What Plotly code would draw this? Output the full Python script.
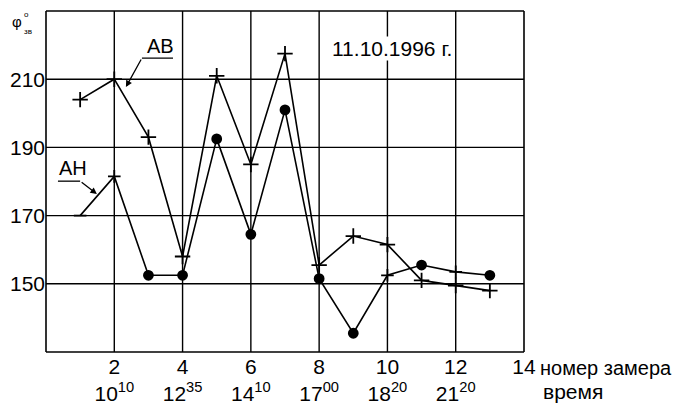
import plotly.graph_objects as go

# Data
measure_no = [1, 2, 3, 4, 5, 6, 7, 8, 9, 10, 11, 12, 13]
phi_AB = [204, 210, 193, 158, 211, 185, 217.5, 155.5, 164, 161.5, 151, 149.5, 148]
phi_AH = [170, 181.5, 152.5, 152.5, 192.5, 164.5, 201, 151.5, 135.5, 152.5, 155.5, 153.5, 152.5]
x_ticks = [2, 4, 6, 8, 10, 12, 14]
x_numbers = ["2", "4", "6", "8", "10", "12", "14"]
x_times = ["10<sup>10</sup>", "12<sup>35</sup>", "14<sup>10</sup>", "17<sup>00</sup>",
           "18<sup>20</sup>", "21<sup>20</sup>", ""]
y_ticks = [150, 170, 190, 210]
x_range = [0, 14]
y_range = [130, 230]
date_label = "11.10.1996 г."

FONT = "Liberation Sans, Arial, sans-serif"
FS = 21
ah_symbols = ["line-ew-open", "cross-thin-open", "circle", "circle", "circle", "circle", "circle",
              "circle", "circle", "cross-thin-open", "circle", "cross-thin-open", "circle"]

fig = go.Figure()

# Grid drawn as shapes in data coordinates
grid_line = dict(color="black", width=1.4)
for xv in x_ticks[:-1]:
    fig.add_shape(type="line", xref="x", yref="y", x0=xv, x1=xv, y0=y_range[0], y1=y_range[1],
                  line=grid_line, layer="below")
for yv in y_ticks:
    fig.add_shape(type="line", xref="x", yref="y", x0=x_range[0], x1=x_range[1], y0=yv, y1=yv,
                  line=grid_line, layer="below")
# Frame (paper coordinates, not clipped)
frame_line = dict(color="black", width=1.6)
for (x0, y0, x1, y1) in [(0, 0, 1, 0), (0, 1, 1, 1), (0, 0, 0, 1), (1, 0, 1, 1)]:
    fig.add_shape(type="line", xref="paper", yref="paper", x0=x0, y0=y0, x1=x1, y1=y1,
                  line=frame_line)

fig.add_trace(go.Scatter(
    x=measure_no, y=phi_AB, mode="lines+markers", name="АВ",
    line=dict(color="black", width=1.6),
    marker=dict(symbol="cross-thin-open", size=11, color="black",
                line=dict(color="black", width=1.8)),
))
fig.add_trace(go.Scatter(
    x=measure_no, y=phi_AH, mode="lines+markers", name="АН",
    line=dict(color="black", width=1.6),
    marker=dict(symbol=ah_symbols, size=9, color="black",
                line=dict(color="black", width=1.8)),
))

ticktext = [f"{n}<br>{t}" for n, t in zip(x_numbers, x_times)]

fig.update_layout(
    width=673, height=397,
    margin=dict(l=38, r=157, t=3, b=53),
    paper_bgcolor="white", plot_bgcolor="white",
    showlegend=False,
    font=dict(family=FONT, size=FS, color="black"),
    xaxis=dict(range=x_range, tickvals=x_ticks, ticktext=ticktext, automargin=False,
               showgrid=False, showline=False, zeroline=False, ticks="",
               tickfont=dict(size=FS)),
    yaxis=dict(range=y_range, tickvals=y_ticks, automargin=False,
               showgrid=False, showline=False, zeroline=False, ticks="",
               tickfont=dict(size=FS)),
)

# Leader lines
fig.add_shape(type="line", xref="x", yref="y", x0=2.81, y0=216.2, x1=3.72, y1=216.2,
              line=dict(color="black", width=1.3))
fig.add_annotation(x=2.34, y=207.7, ax=2.81, ay=216.2, axref="x", ayref="y",
                   text="", showarrow=True, arrowhead=2, arrowsize=1, arrowwidth=1.3,
                   arrowcolor="black")
fig.add_shape(type="line", xref="x", yref="y", x0=0.35, y0=180.1, x1=1.0, y1=180.1,
              line=dict(color="black", width=1.3))
fig.add_annotation(x=1.49, y=176.3, ax=1.0, ay=180.1, axref="x", ayref="y",
                   text="", showarrow=True, arrowhead=2, arrowsize=1, arrowwidth=1.3,
                   arrowcolor="black")

fig.add_annotation(x=3.34, y=219.6, text="АВ", showarrow=False, font=dict(size=20))
fig.add_annotation(x=0.78, y=183.9, text="АН", showarrow=False, font=dict(size=20))
fig.add_annotation(x=10.13, y=218.9, text=date_label, showarrow=False,
                   bgcolor="white", font=dict(size=FS), borderpad=0)

# Axis label phi
fig.add_annotation(xref="paper", yref="paper", x=-0.060, y=0.968, text="φ",
                   showarrow=False, font=dict(size=15), xanchor="center", yanchor="middle")
fig.add_annotation(xref="paper", yref="paper", x=-0.040, y=0.991, text="o",
                   showarrow=False, font=dict(size=8), xanchor="center", yanchor="middle")
fig.add_annotation(xref="paper", yref="paper", x=-0.038, y=0.941, text="зв",
                   showarrow=False, font=dict(size=8), xanchor="center", yanchor="middle")

# Bottom right labels
fig.add_annotation(xref="paper", yref="paper", x=1.029, y=-0.047, text="номер замера",
                   showarrow=False, xanchor="left", yanchor="middle", font=dict(size=20))
fig.add_annotation(xref="paper", yref="paper", x=1.036, y=-0.117, text="время",
                   showarrow=False, xanchor="left", yanchor="middle", font=dict(size=FS))

fig.write_html("out.html")
